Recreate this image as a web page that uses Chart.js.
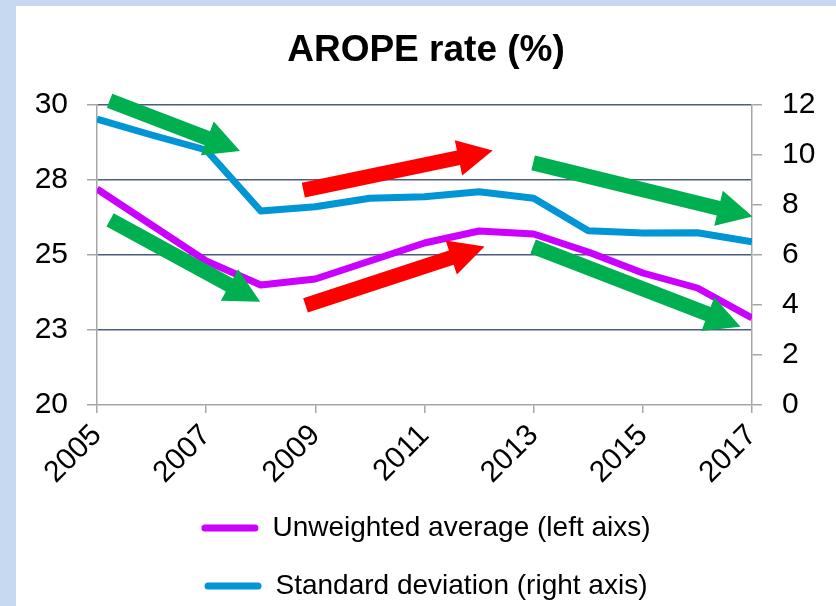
<!DOCTYPE html>
<html><head><meta charset="utf-8">
<script src="https://cdn.jsdelivr.net/npm/chart.js@4.4.1/dist/chart.umd.min.js"></script>
<style>
html,body{margin:0;padding:0;background:#c6d9f1;overflow:hidden;width:836px;height:606px;}
#wrap{position:absolute;left:16px;top:6px;width:820px;height:604px;background:#fff;}
canvas{display:block;}
</style></head><body>
<div id="wrap"><canvas id="c" width="820" height="604"></canvas></div>
<script>
// ---- data ----
const years = [2005,2006,2007,2008,2009,2010,2011,2012,2013,2014,2015,2016,2017];
const unweightedAverage = [27.2,26.0,24.8,24.0,24.2,24.8,25.4,25.8,25.7,25.1,24.4,23.9,22.9];
const standardDeviation = [11.44,10.8,10.2,7.76,7.93,8.27,8.33,8.53,8.27,6.97,6.88,6.89,6.53];
const xTickValues = [2005,2007,2009,2011,2013,2015,2017];
const leftTickLabels = ['20','23','25','28','30'];
const rightTickLabels = ['0','2','4','6','8','10','12'];
const seriesNames = ['Unweighted average (left aixs)','Standard deviation (right axis)'];
// trend arrows in data units (x = year, y = left-axis value)
const arrowFrom = [[2005.23,30.14],[2005.24,26.17],[2008.78,27.16],[2008.82,23.32],[2012.99,28.07],[2012.99,25.28]];
const arrowTo   = [[2007.62,28.47],[2007.99,23.44],[2012.25,28.48],[2012.10,25.28],[2017.01,26.28],[2016.79,22.61]];
const arrowTrend = ['down','down','up','up','down','down'];

const FONT = "'Liberation Sans', Arial, sans-serif";
const colors = ['#cc00ff','#0096d6'];
const trendColors = {down:'#00b050', up:'#ff0000'};

const arrowPlugin = {
  id:'arrows',
  afterDatasetsDraw(chart){
    const {ctx, scales:{x,y}} = chart;
    const shaft = 15, headW = 36, headL = 35;
    arrowFrom.forEach((f,i)=>{
      const t = arrowTo[i];
      const x0 = x.getPixelForValue(f[0]), y0 = y.getPixelForValue(f[1]);
      const x1 = x.getPixelForValue(t[0]), y1 = y.getPixelForValue(t[1]);
      const ang = Math.atan2(y1-y0, x1-x0);
      const len = Math.hypot(x1-x0, y1-y0);
      ctx.save();
      ctx.translate(x0,y0); ctx.rotate(ang);
      ctx.beginPath();
      ctx.moveTo(0,-shaft/2);
      ctx.lineTo(len-headL,-shaft/2);
      ctx.lineTo(len-headL,-headW/2);
      ctx.lineTo(len,0);
      ctx.lineTo(len-headL,headW/2);
      ctx.lineTo(len-headL,shaft/2);
      ctx.lineTo(0,shaft/2);
      ctx.closePath();
      ctx.fillStyle = trendColors[arrowTrend[i]];
      ctx.fill();
      ctx.restore();
    });
  }
};

new Chart(document.getElementById('c'), {
  type:'line',
  data:{
    datasets:[
      {label:seriesNames[0], data:years.map((yr,i)=>({x:yr,y:unweightedAverage[i]})), yAxisID:'y',
       borderColor:colors[0], backgroundColor:colors[0], borderWidth:7, pointRadius:0, tension:0, borderJoinStyle:'round'},
      {label:seriesNames[1], data:years.map((yr,i)=>({x:yr,y:standardDeviation[i]})), yAxisID:'y1',
       borderColor:colors[1], backgroundColor:colors[1], borderWidth:7, pointRadius:0, tension:0, borderJoinStyle:'round'}
    ]
  },
  options:{
    responsive:false, animation:false, devicePixelRatio:1,
    layout:{padding:0},
    plugins:{
      title:{display:true, text:'AROPE rate (%)', color:'#000',
        font:{family:FONT, size:37, weight:'bold', lineHeight:1.2}, padding:{top:23, bottom:31.6}},
      legend:{position:'bottom', align:'center',
        labels:{boxWidth:57, boxHeight:7, useBorderRadius:true, borderRadius:3.5, padding:30, color:'#000',
          font:{family:FONT, size:28},
          generateLabels:(chart)=>chart.data.datasets.map((d,i)=>({
            text:d.label, fillStyle:colors[i], strokeStyle:colors[i], lineWidth:0,
            borderRadius:3.5, datasetIndex:i, hidden:false, fontColor:'#000'}))
        }},
      tooltip:{enabled:false}
    },
    scales:{
      x:{type:'linear', min:2005, max:2017,
        afterBuildTicks:s=>{ s.ticks = xTickValues.map(v=>({value:v})); },
        ticks:{callback:(v)=>String(v), maxRotation:45, minRotation:45, padding:5, color:'#000',
          font:{family:FONT, size:30}},
        grid:{drawOnChartArea:false, drawTicks:true, tickLength:8, color:'#a6a6a6', lineWidth:1.5},
        border:{color:'#a6a6a6', width:1.5},
        afterFit:s=>{ s.height = 79; }},
      y:{position:'left', min:20, max:30,
        afterBuildTicks:s=>{ s.ticks = leftTickLabels.map((_,i)=>({value:20+2.5*i})); },
        ticks:{callback:(v,i)=>leftTickLabels[i], padding:19, color:'#000', font:{family:FONT, size:30}},
        grid:{color:(c)=> (c.tick && c.tick.value===20) ? 'rgba(0,0,0,0)' : '#4b5d7e',
          tickColor:'#a6a6a6', tickLength:10, lineWidth:1.5},
        border:{color:'#a6a6a6', width:1.5},
        afterFit:s=>{ s.width = 81; }},
      y1:{position:'right', min:0, max:12,
        afterBuildTicks:s=>{ s.ticks = rightTickLabels.map(v=>({value:Number(v)})); },
        ticks:{callback:(v,i)=>rightTickLabels[i], padding:20, color:'#000', font:{family:FONT, size:30}},
        grid:{drawOnChartArea:false, tickLength:10, color:'#a6a6a6', lineWidth:1.5},
        border:{color:'#a6a6a6', width:1.5},
        afterFit:s=>{ s.width = 84; }}
    }
  },
  plugins:[arrowPlugin]
});
</script>
</body></html>
